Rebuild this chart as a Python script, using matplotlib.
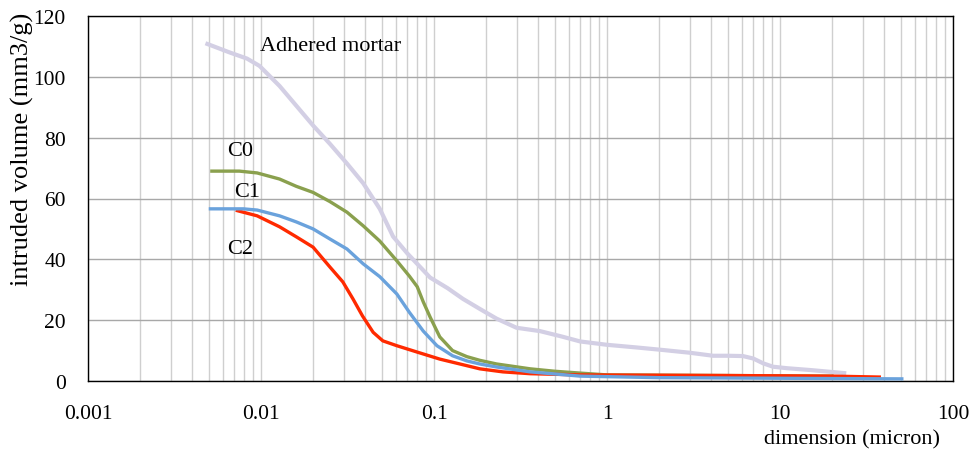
import matplotlib
matplotlib.use("Agg")
import matplotlib.pyplot as plt
from matplotlib.ticker import LogLocator, FixedLocator, NullFormatter

# pore diameter (micron) vs cumulative intruded volume (mm3/g)
mortar_d = [0.0049, 0.0066, 0.0083, 0.0098, 0.0128, 0.016, 0.02, 0.025, 0.0314, 0.039,
            0.0486, 0.058, 0.07, 0.08, 0.095, 0.12, 0.147, 0.184, 0.23, 0.3, 0.41,
            0.55, 0.7, 1.0, 1.5, 2.1, 3.0, 4.1, 5.0, 6.1, 7.0, 8.0, 9.1, 11, 15, 23.5]
mortar_v = [110.8, 108, 106, 103.6, 97, 90.5, 84, 78, 71.5, 65,
            56.6, 47.5, 42, 38.5, 34, 30.5, 27, 23.7, 20.5, 17.5, 16.4,
            14.6, 13, 11.9, 11, 10.2, 9.3, 8.3, 8.3, 8.2, 7.4, 5.8, 4.7, 4.2, 3.6, 2.6]

c0_d = [0.0052, 0.0075, 0.0095, 0.0128, 0.016, 0.02, 0.025, 0.0314, 0.039, 0.0486,
        0.061, 0.072, 0.08, 0.0867, 0.095, 0.108, 0.128, 0.155, 0.184, 0.23, 0.36,
        0.5, 0.7, 1.0, 5.0, 20.0]
c0_v = [69, 69, 68.4, 66.4, 64, 62, 59, 55.5, 51, 46,
        39.5, 34.5, 31, 26, 21, 14.5, 10, 8, 6.8, 5.6, 4,
        3.2, 2.6, 2.0, 1.8, 1.6]

c1_d = [0.0051, 0.0079, 0.0095, 0.0128, 0.016, 0.02, 0.025, 0.0314, 0.039, 0.0486,
        0.061, 0.072, 0.0867, 0.104, 0.128, 0.155, 0.184, 0.23, 0.36, 0.7,
        2.0, 10.0, 50.6]
c1_v = [56.6, 56.6, 56.2, 54.3, 52.3, 50, 46.7, 43.4, 38.5, 34.3,
        28.6, 22.6, 16.4, 11.6, 8.3, 6.6, 5.6, 4.6, 3, 1.6,
        1.1, 0.9, 0.7]

c2_d = [0.0073, 0.0095, 0.0128, 0.016, 0.02, 0.025, 0.0297, 0.034, 0.0386, 0.0445,
        0.0506, 0.061, 0.08, 0.108, 0.184, 0.25, 0.36, 0.7, 5.0, 20.0, 37.5]
c2_v = [56, 54.3, 50.7, 47.4, 44, 37.5, 32.6, 27, 21.4, 16,
        13.2, 11.6, 9.5, 7.2, 4, 3, 2.4, 2.0, 1.8, 1.6, 1.3]

plt.rcParams["font.family"] = ["Liberation Serif", "DejaVu Serif"]

W, H = 9.72, 4.6
fig, ax = plt.subplots(figsize=(W, H), dpi=100)
fig.subplots_adjust(left=88 / 972, right=953 / 972, top=1 - 17 / 460, bottom=1 - 382 / 460)

ax.plot(mortar_d, mortar_v, color="#d3cfe4", lw=3.0, zorder=3)
ax.plot(c0_d, c0_v, color="#8aa04e", lw=2.4, zorder=4)
ax.plot(c1_d, c1_v, color="#6aa2dc", lw=2.4, zorder=5)
ax.plot(c2_d, c2_v, color="#ff2a00", lw=2.4, zorder=4.5)

ax.set_xscale("log")
ax.set_xlim(0.001, 100)
ax.set_ylim(0, 120)
ax.xaxis.set_major_locator(FixedLocator([0.001, 0.01, 0.1, 1, 10, 100]))
ax.set_xticklabels(["0.001", "0.01", "0.1", "1", "10", "100"])
ax.xaxis.set_minor_locator(LogLocator(base=10, subs=range(2, 10)))
ax.xaxis.set_minor_formatter(NullFormatter())
ax.set_yticks(range(0, 121, 20))

ax.grid(True, which="both", axis="x", color="#cfcfcf", lw=1.0, zorder=0)
ax.grid(True, which="major", axis="y", color="#a8a8a8", lw=1.0, zorder=0)
ax.set_axisbelow(True)
ax.tick_params(which="both", length=0, labelsize=15.5)
ax.tick_params(axis="x", pad=16.5)
ax.tick_params(axis="y", pad=16)

for s in ax.spines.values():
    s.set_color("black")
    s.set_linewidth(1.0)

fig.text(22 / 972, 1 - 149 / 460, "intruded volume (mm3/g)", fontsize=19,
         rotation=90, ha="center", va="center")
fig.text(852 / 972, 1 - 440 / 460, "dimension (micron)", fontsize=16,
         ha="center", va="center")

ax.text(0.0099, 110.2, "Adhered mortar", fontsize=16, ha="left", va="center")
ax.text(0.00635, 75.7, "C0", fontsize=16, ha="left", va="center")
ax.text(0.0070, 62.2, "C1", fontsize=16, ha="left", va="center")
ax.text(0.00635, 43.4, "C2", fontsize=16, ha="left", va="center")

fig.savefig("out.png", dpi=100)
